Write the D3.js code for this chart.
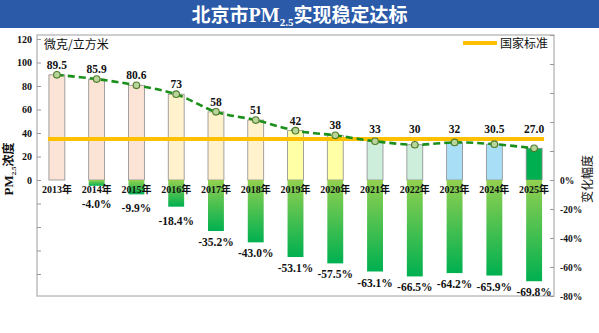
<!DOCTYPE html>
<html>
<head>
<meta charset="utf-8">
<script src="https://cdn.jsdelivr.net/npm/d3@7"></script>
<style>
    body { margin: 0; background: #fff; }
    svg { display: block; }
</style>
</head>
<body>
<div id="chart"></div>
<script>
// 数据
var years = ['2013年', '2014年', '2015年', '2016年', '2017年', '2018年', '2019年', '2020年', '2021年', '2022年', '2023年', '2024年', '2025年'];
var pmValues = [89.5, 85.9, 80.6, 73, 58, 51, 42, 38, 33, 30, 32, 30.5, 27.0];
var pmLabels = ['89.5', '85.9', '80.6', '73', '58', '51', '42', '38', '33', '30', '32', '30.5', '27.0'];
var changeValues = [0, -4.0, -9.9, -18.4, -35.2, -43.0, -53.1, -57.5, -63.1, -66.5, -64.2, -65.9, -69.8];
var barColors = ['#fbe4d5', '#fbe4d5', '#fbe4d5', '#fff2cc', '#fff2cc', '#fff2cc', '#ffffa6', '#ffffa6', '#cdeedb', '#cdeedb', '#a9dff6', '#a9dff6', '#00b050'];
var standard = 35;
var leftTicks = [-80, -60, -40, -20, 0, 20, 40, 60, 80, 100, 120];
var rightTicks = [-80, -60, -40, -20, 0, 20, 40, 60, 80, 100];

//常量
const W = 599, H = 333;
const plot = { left: 37, top: 35, right: 554, bottom: 296 };
const serif = '"Liberation Serif", "Times New Roman", "Noto Sans CJK SC", serif';
const cjk = '"Noto Sans CJK SC", sans-serif';

var svg = d3.select('#chart').append('svg').attr('width', W).attr('height', H);

// 渐变（变化幅度柱）
var grad = svg.append('defs').append('linearGradient')
    .attr('id', 'chg').attr('x1', 0).attr('y1', 0).attr('x2', 0).attr('y2', 1);
grad.append('stop').attr('offset', '0%').attr('stop-color', '#92d050');
grad.append('stop').attr('offset', '100%').attr('stop-color', '#00b050');

// 标题栏
svg.append('rect').attr('x', 0).attr('y', 0).attr('width', W).attr('height', 28).attr('fill', '#2b5aa8');
var title = svg.append('text')
    .attr('x', W / 2).attr('y', 22)
    .attr('text-anchor', 'middle')
    .attr('fill', '#fff')
    .style('font-weight', 'bold')
    .style('font-size', '19px');
title.append('tspan').style('font-family', cjk).text('北京市');
title.append('tspan').style('font-family', serif).style('font-size', '20px').text('PM');
title.append('tspan').style('font-family', serif).style('font-size', '11px').attr('dy', 4).text('2.5');
title.append('tspan').style('font-family', cjk).attr('dy', -4).text('实现稳定达标');

// 比例尺
var x = d3.scaleBand().domain(years)
    .range([plot.left, plot.right])
    .paddingInner(0.6).paddingOuter(0.3);
var yL = d3.scaleLinear().domain([-100, 120]).range([297.5, 39]);
var yR = d3.scaleLinear().domain([-80, 100]).range([plot.bottom, plot.top]);
var cx = d => x(d) + x.bandwidth() / 2;

// 边框
svg.append('rect')
    .attr('x', plot.left).attr('y', plot.top)
    .attr('width', plot.right - plot.left).attr('height', plot.bottom - plot.top)
    .attr('fill', 'none').attr('stroke', '#bfbfbf').attr('stroke-width', 1.5);

// 左轴
var axL = svg.append('g').attr('transform', `translate(${plot.left},0)`)
    .call(d3.axisLeft(yL).tickValues(leftTicks).tickSize(-4).tickPadding(5)
        .tickFormat(d => d >= 0 ? d : ''));
axL.select('.domain').remove();
axL.selectAll('line').attr('stroke', '#999');
axL.selectAll('text').style('font-family', serif).style('font-weight', 'bold').style('font-size', '10px').attr('fill', '#111');

// 右轴
var axR = svg.append('g').attr('transform', `translate(${plot.right},0)`)
    .call(d3.axisRight(yR).tickValues(rightTicks).tickSize(-4).tickPadding(6)
        .tickFormat(d => d <= 0 ? d + '%' : ''));
axR.select('.domain').remove();
axR.selectAll('line').attr('stroke', '#999');
axR.selectAll('text').style('font-family', serif).style('font-weight', 'bold').style('font-size', '9.5px').attr('fill', '#111');

// PM2.5 柱
svg.append('g').selectAll('rect').data(years).join('rect')
    .attr('x', d => x(d))
    .attr('y', (d, i) => yL(pmValues[i]))
    .attr('width', x.bandwidth())
    .attr('height', (d, i) => yL(0) - yL(pmValues[i]))
    .attr('fill', (d, i) => barColors[i])
    .attr('stroke', '#8c8c8c').attr('stroke-width', 0.8);

// 变化幅度柱
svg.append('g').selectAll('rect').data(years).join('rect')
    .attr('x', d => x(d))
    .attr('y', yR(0))
    .attr('width', x.bandwidth())
    .attr('height', (d, i) => yR(changeValues[i]) - yR(0))
    .attr('fill', 'url(#chg)');

// 年份
svg.append('g').selectAll('text').data(years).join('text')
    .attr('x', d => cx(d))
    .attr('y', yL(0) + 9)
    .attr('dy', '0.35em')
    .attr('text-anchor', 'middle')
    .style('font-family', serif).style('font-weight', 'bold').style('font-size', '10px')
    .attr('fill', '#111')
    .text(d => d);

// 国家标准线
svg.append('line')
    .attr('x1', x(years[0]) - 1).attr('x2', x(years[years.length - 1]) + x.bandwidth() + 2)
    .attr('y1', yL(standard)).attr('y2', yL(standard))
    .attr('stroke', '#ffc000').attr('stroke-width', 4);

// 趋势虚线
var line = d3.line()
    .x((d, i) => cx(years[i]))
    .y(d => yL(d))
    .curve(d3.curveCatmullRom.alpha(0.5));
svg.append('path').datum(pmValues)
    .attr('d', line)
    .attr('fill', 'none')
    .attr('stroke', '#1a8f1a').attr('stroke-width', 2.6)
    .attr('stroke-dasharray', '7,4');
svg.append('g').selectAll('circle').data(pmValues).join('circle')
    .attr('cx', (d, i) => cx(years[i]))
    .attr('cy', d => yL(d))
    .attr('r', 3.3)
    .attr('fill', '#b8d69c').attr('stroke', '#4f7a28').attr('stroke-width', 1.1);

// 数值标签
svg.append('g').selectAll('text').data(pmValues).join('text')
    .attr('x', (d, i) => cx(years[i]))
    .attr('y', d => Math.min(yL(d), yL(standard)) - 10)
    .attr('dy', '0.35em')
    .attr('text-anchor', 'middle')
    .style('font-family', serif).style('font-weight', 'bold').style('font-size', '11.5px')
    .attr('fill', '#111')
    .text((d, i) => pmLabels[i]);

// 变化幅度标签
svg.append('g').selectAll('text').data(changeValues.slice(1)).join('text')
    .attr('x', (d, i) => cx(years[i + 1]))
    .attr('y', d => Math.max(yR(d) + (d > -30 ? 14 : 11), 204))
    .attr('dy', '0.35em')
    .attr('text-anchor', 'middle')
    .style('font-family', serif).style('font-weight', 'bold').style('font-size', '11.5px')
    .attr('fill', '#111')
    .text(d => d.toFixed(1) + '%');

// 图例
svg.append('line').attr('x1', 463).attr('x2', 497).attr('y1', 43).attr('y2', 43)
    .attr('stroke', '#ffc000').attr('stroke-width', 4);
svg.append('text').attr('x', 500).attr('y', 44).attr('dy', '0.35em')
    .style('font-family', cjk).style('font-size', '12px').attr('fill', '#111')
    .text('国家标准');

// 单位
svg.append('text').attr('x', 44).attr('y', 45).attr('dy', '0.35em')
    .style('font-family', cjk).style('font-size', '12px').attr('fill', '#111')
    .text('微克/立方米');

// 轴标题
var lt = svg.append('text')
    .attr('transform', 'translate(13,169) rotate(-90)')
    .attr('text-anchor', 'middle')
    .style('font-weight', 'bold').style('font-size', '12px').attr('fill', '#111');
lt.append('tspan').style('font-family', serif).style('font-size', '13px').text('PM');
lt.append('tspan').style('font-family', serif).style('font-size', '7px').attr('dy', 3).text('2.5');
lt.append('tspan').style('font-family', cjk).attr('dy', -3).text('浓度');

svg.append('text')
    .attr('transform', 'translate(588,179) rotate(-90)')
    .attr('text-anchor', 'middle').attr('dy', '0.35em')
    .style('font-family', cjk).style('font-size', '12px').attr('fill', '#111')
    .text('变化幅度');
</script>
</body>
</html>
